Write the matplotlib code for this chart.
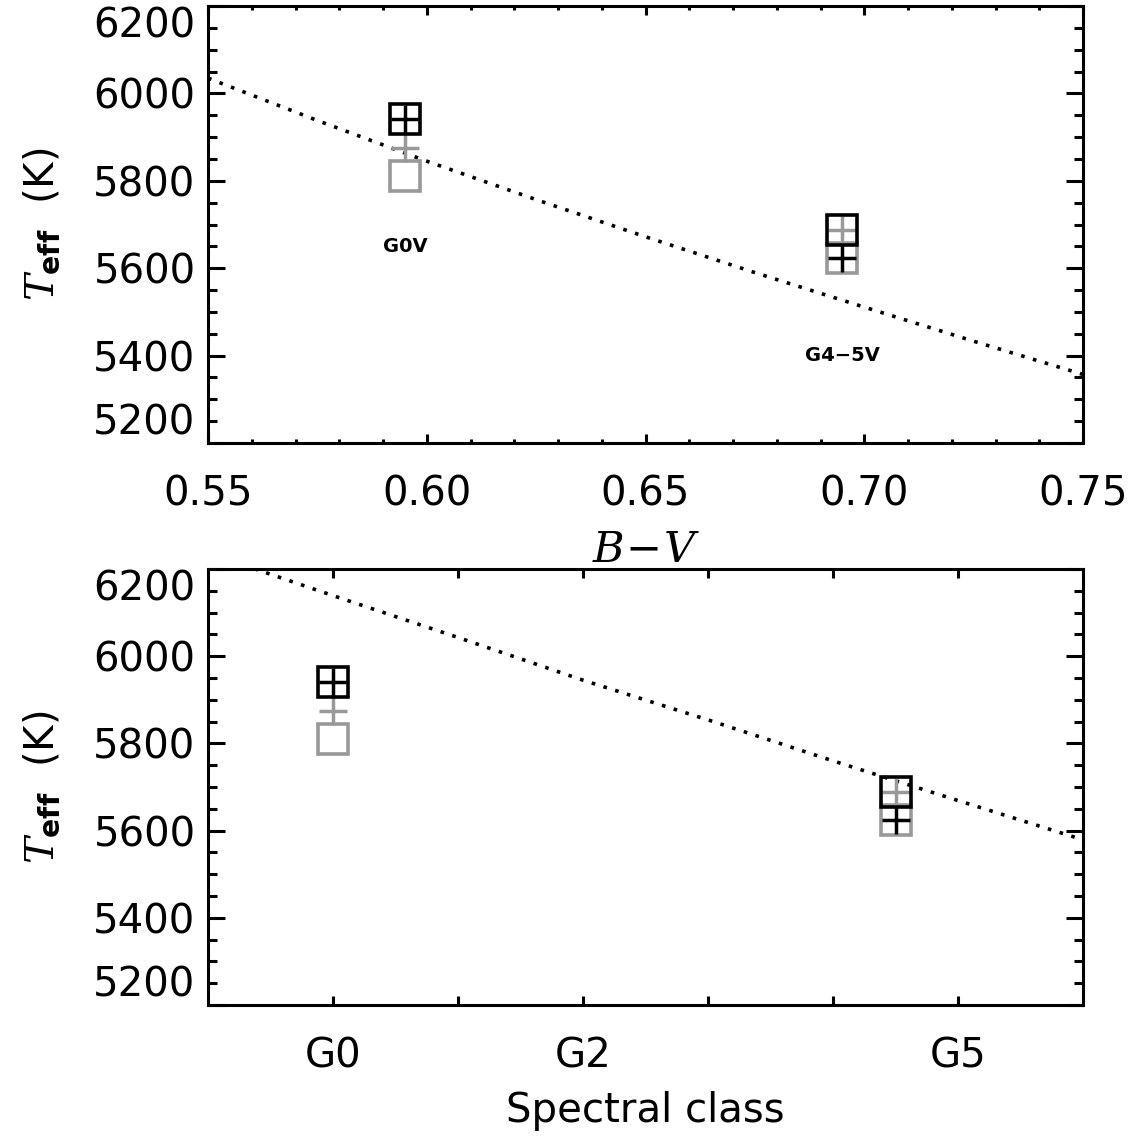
"""Teff vs B-V and spectral class for two solar analogues, with the calibration relations."""

import matplotlib

matplotlib.use("Agg")
import matplotlib.pyplot as plt  # noqa: E402
from matplotlib.ticker import FixedLocator, MultipleLocator  # noqa: E402

# calibration relations
bv_curve = [0.55, 0.575, 0.60, 0.625, 0.65, 0.675, 0.70, 0.725, 0.75]
teff_bv_curve = [6035, 5938, 5845, 5757, 5672, 5590, 5511, 5433, 5357]
spec_curve = [-1.0, 0.0, 1.0, 2.0, 3.0, 4.0, 5.0, 6.0]
teff_spec_curve = [6237, 6139, 6043, 5945, 5854, 5760, 5669, 5579]

# the two stars
bv_star = [0.595, 0.695]
spec_star = [0.0, 4.5]
star_names = ["G0V", "G4\u22125V"]
name_teff = [5650, 5400]
teff_sq_black = [5941, 5688]
teff_plus_black = [5941, 5624]
teff_sq_gray = [5811, 5624]
teff_plus_gray = [5875, 5688]

spec_ticks = [0, 1, 2, 3, 4, 5]
spec_labels = ["G0", "", "G2", "", "", "G5"]
teff_ticks = [5200, 5400, 5600, 5800, 6000, 6200]

GRAY = "#999999"

plt.rcParams["font.family"] = "DejaVu Sans"
plt.rcParams["mathtext.fontset"] = "custom"
plt.rcParams["mathtext.rm"] = "DejaVu Sans"
plt.rcParams["mathtext.it"] = "DejaVu Serif:italic"
plt.rcParams["mathtext.bf"] = "DejaVu Sans:bold"

fig = plt.figure(figsize=(11.38, 11.36), dpi=100)
ax1 = fig.add_axes([0.1828, 0.610, 0.7689, 0.3847])
ax2 = fig.add_axes([0.1828, 0.1153, 0.7689, 0.3838])


def draw_stars(ax, xs):
    ax.plot(xs, teff_sq_gray, "s", ms=21, mfc="none", mec=GRAY, mew=2.6, zorder=3)
    ax.plot(xs, teff_plus_gray, "+", ms=20, mec=GRAY, mew=2.5, zorder=3)
    ax.plot(xs, teff_sq_black, "s", ms=21, mfc="none", mec="k", mew=2.6, zorder=4)
    ax.plot(xs, teff_plus_black, "+", ms=20, mec="k", mew=2.5, zorder=4)


def style_axis(ax):
    for sp in ax.spines.values():
        sp.set_linewidth(2.2)
    ax.set_ylim(5200, 6200)
    ax.yaxis.set_major_locator(FixedLocator(teff_ticks))
    ax.yaxis.set_minor_locator(MultipleLocator(50))
    ax.tick_params(axis="both", which="both", direction="in", top=True, right=True,
                   width=2.2, labelsize=29)
    ax.tick_params(axis="y", which="major", length=12.5, pad=9)
    ax.tick_params(axis="y", which="minor", length=6.2)
    ax.tick_params(axis="x", which="major", length=6.3, pad=23)
    ax.tick_params(axis="x", which="minor", length=3.2)
    ax.set_ylabel(r"$T_{\mathbf{eff}}$  (K)", fontsize=29, labelpad=22)


# top: B-V
ax1.plot(bv_curve, teff_bv_curve, color="k", lw=2.6, ls=(0, (1, 2.4)), zorder=2)
draw_stars(ax1, bv_star)
for x, t, name in zip(bv_star, name_teff, star_names):
    ax1.text(x, t, name, fontsize=14, fontweight="bold", ha="center", va="center")
ax1.set_xlim(0.55, 0.75)
ax1.xaxis.set_major_locator(FixedLocator([0.55, 0.60, 0.65, 0.70, 0.75]))
ax1.xaxis.set_minor_locator(MultipleLocator(0.01))
ax1.set_xticklabels(["0.55", "0.60", "0.65", "0.70", "0.75"])
style_axis(ax1)
ax1.set_xlabel(r"$B\!-\!V$", fontsize=31, labelpad=10)

# bottom: spectral class
ax2.plot(spec_curve, teff_spec_curve, color="k", lw=2.6, ls=(0, (1, 2.4)), zorder=2)
draw_stars(ax2, spec_star)
ax2.set_xlim(-1, 6)
ax2.xaxis.set_major_locator(FixedLocator(spec_ticks))
ax2.set_xticklabels(spec_labels)
style_axis(ax2)
ax2.set_xlabel("Spectral class", fontsize=29, labelpad=10)

for ax in (ax1, ax2):
    ax.set_yticklabels([str(t) for t in teff_ticks])
    labels = ax.get_yticklabels()
    labels[0].set_va("bottom")
    labels[-1].set_va("top")

fig.savefig("out.png", dpi=100)
